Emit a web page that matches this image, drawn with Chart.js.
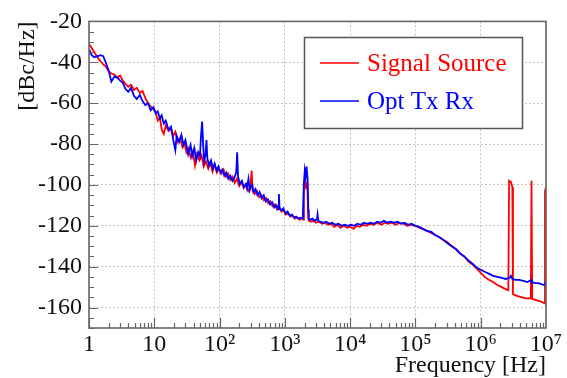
<!DOCTYPE html>
<html lang="en">
<head>
    <meta charset="UTF-8">
    <title>Phase noise - Signal Source vs Opt Tx Rx</title>
    <script src="https://cdn.jsdelivr.net/npm/chart.js"></script>
    <style>
        body { margin: 0; background: #fff; }
    </style>
</head>
<body>
    <canvas id="grafico" width="567" height="378"></canvas>

    <script>
        // datos
        const seriesNames = ['Signal Source', 'Opt Tx Rx'];
        const seriesColors = ['#ff0000', '#0000ff'];

        const xTicks = [1, 10, 100, 1000, 1e4, 1e5, 1e6, 1e7];
        const xTickLabels = ['1', '10', '10²', '10³', '10⁴', '10⁵', '10⁶', '10⁷'];
        const yTicks = [-160, -140, -120, -100, -80, -60, -40, -20];

        const freqSource = [1.0, 1.1, 1.2, 1.35, 1.5, 1.65, 1.8, 2.0, 2.2, 2.45, 2.7, 3.0, 3.3, 3.6, 4.0, 4.4, 4.9, 5.4, 6.0, 6.6, 7.3, 8.0, 8.8, 9.7,
            10.5, 11.3, 12.2, 13, 14, 15, 16.5, 18, 19.5, 21, 23, 25, 27, 29, 31, 33, 36, 39, 42, 45, 49, 53, 57, 62, 67, 72, 78, 84, 91,
            98, 106, 115, 125, 135, 146, 158, 170, 184, 200, 216, 234, 253, 274, 296, 310, 320, 345, 375, 405, 440, 475, 515, 555, 600, 650, 705, 760, 825, 890, 965,
            1040, 1130, 1220, 1320, 1430, 1550, 1680, 1820, 1920, 1960, 2020, 2100, 2200, 2270, 2330, 2500, 2750, 3000, 3300, 3700, 4100, 4600, 5100, 5700, 6400, 7100, 8000, 9000,
            10000, 11200, 12600, 14000, 16000, 18000, 20000, 23000, 26000, 30000, 34000, 38000, 43000, 50000, 57000, 65000, 75000, 85000,
            100000, 115000, 130000, 150000, 175000, 200000, 230000, 270000, 310000, 360000, 420000, 480000, 560000, 650000, 750000, 870000,
            1000000, 1150000, 1350000, 1550000, 1800000, 2100000, 2400000, 2650000, 2720000, 2900000, 3050000, 3120000, 3400000, 3800000, 4300000, 4900000, 5500000, 5850000, 6000000, 6150000, 6500000, 7300000, 8200000, 9000000, 9500000, 9650000, 10000000];
        const valSource = [-31.0, -33.0, -35.0, -37.5, -39.5, -41.0, -42.0, -44.5, -45.5, -46.0, -47.5, -46.5, -49.0, -50.5, -52.0, -51.0, -53.5, -52.5, -55.0, -54.0, -57.5, -60.0, -61.5, -63.0,
            -64.5, -68.5, -67.0, -73.0, -75.0, -71.0, -73.5, -72.5, -76.0, -74.0, -79.0, -77.0, -81.5, -79.5, -84.0, -82.0, -86.5, -83.5, -90.5, -85.0, -88.0, -85.5, -91.0, -88.5, -92.0, -89.0, -93.5, -90.0, -94.0,
            -92.0, -94.5, -92.5, -96.0, -94.5, -97.5, -96.0, -99.0, -97.0, -100.5, -98.5, -101.5, -100.0, -103.0, -101.0, -93.0, -102.5, -104.5, -103.0, -106.0, -105.0, -107.5, -106.5, -109.0, -108.0, -110.5, -109.5, -112.0, -111.0, -113.0, -112.5,
            -114.5, -114.0, -115.5, -115.0, -116.5, -116.0, -117.0, -116.5, -117.0, -100.0, -97.5, -101.0, -99.0, -112.0, -117.5, -118.0, -117.5, -118.5, -118.0, -119.0, -118.5, -119.5, -119.0, -120.5, -119.5, -121.0, -120.0, -121.0,
            -120.5, -121.5, -120.0, -120.5, -119.5, -120.0, -119.0, -119.5, -118.5, -119.5, -118.5, -119.0, -118.5, -119.5, -118.5, -119.0, -120.0, -119.5,
            -120.0, -121.0, -121.5, -122.5, -123.5, -124.5, -125.5, -127.0, -128.0, -130.0, -131.5, -133.5, -135.0, -137.5, -139.0, -141.0,
            -143.0, -145.0, -146.5, -147.5, -149.0, -150.0, -151.0, -151.5, -98.0, -98.5, -101.0, -153.5, -154.0, -154.5, -155.0, -155.5, -155.5, -155.5, -98.0, -155.8, -156.0, -156.5, -157.0, -157.5, -158.0, -103.0, -101.0];

        const freqOpt = [1.0, 1.1, 1.2, 1.35, 1.5, 1.65, 1.8, 2.0, 2.2, 2.45, 2.7, 3.0, 3.3, 3.6, 4.0, 4.4, 4.9, 5.4, 6.0, 6.6, 7.3, 8.0, 8.8, 9.7,
            10.5, 11.3, 12.2, 13, 14, 15, 16.5, 18, 19.5, 21, 22, 24, 26, 28, 30, 33, 36, 38, 41, 44, 47, 50, 52, 54, 56, 58, 61, 63, 65, 69, 74, 79, 84, 90, 96,
            103, 110, 118, 127, 136, 146, 157, 168, 180, 186, 192, 205, 220, 236, 253, 262, 277, 290, 300, 316, 330, 355, 380, 410, 440, 475, 510, 550, 595, 640, 690, 745, 790, 810, 830, 880, 950,
            1020, 1100, 1190, 1280, 1380, 1490, 1610, 1740, 1880, 1950, 2020, 2080, 2150, 2230, 2300, 2450, 2650, 2850, 3100, 3170, 3250, 3500, 3900, 4300, 4800, 5300, 5900, 6600, 7400, 8200, 9200,
            10300, 11500, 12900, 14500, 16300, 18300, 20500, 23000, 26000, 29000, 33000, 37000, 42000, 47000, 53000, 60000, 68000, 77000, 87000,
            100000, 115000, 130000, 150000, 175000, 200000, 230000, 270000, 310000, 360000, 420000, 480000, 560000, 650000, 750000, 870000,
            1000000, 1150000, 1350000, 1550000, 1800000, 2100000, 2400000, 2750000, 2900000, 3050000, 3400000, 3900000, 4500000, 5200000, 5900000, 6100000, 6800000, 7600000, 8500000, 9300000, 9800000, 10000000];
        const valOpt = [-33.5, -36.5, -37.5, -37.0, -36.5, -37.0, -40.0, -44.0, -49.5, -47.0, -47.5, -49.0, -50.0, -53.0, -54.5, -52.5, -56.5, -58.0, -56.0, -59.0, -61.0, -60.0, -63.5, -62.0,
            -65.0, -64.0, -67.5, -66.0, -70.0, -68.5, -73.0, -71.5, -78.0, -83.0, -76.0, -79.0, -75.5, -80.5, -78.0, -85.0, -80.5, -86.0, -82.0, -88.0, -84.0, -86.0, -76.0, -69.0, -80.0, -88.5, -85.0, -78.0, -87.0, -90.5, -88.0, -92.0, -89.5, -93.0, -91.0,
            -94.0, -92.5, -95.5, -94.0, -97.0, -95.5, -98.0, -96.5, -94.0, -84.0, -96.0, -99.5, -98.0, -101.0, -99.5, -101.5, -97.0, -102.5, -101.0, -100.0, -103.5, -102.0, -105.0, -103.5, -106.5, -105.0, -108.0, -107.0, -109.5, -108.5, -111.0, -110.0, -112.0, -104.5, -111.5, -112.5, -111.5,
            -114.0, -113.0, -115.0, -114.5, -116.0, -115.5, -116.5, -116.0, -116.5, -100.0, -93.0, -96.0, -91.0, -97.0, -116.5, -117.0, -116.5, -117.5, -117.0, -114.5, -117.5, -118.0, -118.5, -118.0, -119.0, -118.5, -119.5, -119.0, -120.0, -119.5, -120.0,
            -119.5, -120.0, -119.0, -119.5, -118.5, -119.0, -118.5, -119.0, -118.0, -118.5, -117.5, -118.5, -118.0, -118.5, -118.0, -119.0, -118.5, -119.5, -119.0,
            -120.0, -120.5, -121.5, -122.5, -123.0, -124.5, -125.5, -127.0, -128.5, -130.0, -131.5, -133.5, -135.0, -137.0, -138.5, -140.5,
            -141.5, -142.5, -143.5, -144.5, -145.0, -145.5, -146.0, -145.5, -144.5, -146.0, -146.5, -146.5, -147.0, -147.5, -146.5, -147.5, -148.0, -148.0, -148.5, -149.0, -148.5, -146.5];

        const fuente = 'Liberation Serif, Times New Roman, serif';

        // ticks menores dentro del marco, cuadro y leyenda
        const marco = {
            id: 'marco',
            afterDatasetsDraw(chart) {
                const c = chart.ctx;
                const a = chart.chartArea;
                const xs = chart.scales.x, ys = chart.scales.y;
                c.save();
                c.strokeStyle = '#666';
                c.lineWidth = 1.2;
                c.beginPath();
                for (let d = 1; d < 1e7; d *= 10) {
                    for (let k = 1; k < 10; k++) {
                        const px = Math.round(xs.getPixelForValue(d * k)) + 0.5;
                        const len = k === 1 ? 10 : 5;
                        c.moveTo(px, a.bottom);
                        c.lineTo(px, a.bottom - len);
                    }
                }
                for (let v = -170; v <= -20; v += 5) {
                    const py = Math.round(ys.getPixelForValue(v)) + 0.5;
                    const len = v % 20 === 0 ? 9 : 5;
                    c.moveTo(a.left, py);
                    c.lineTo(a.left + len, py);
                }
                c.stroke();

                c.lineWidth = 1.6;
                c.strokeStyle = '#666';
                c.strokeRect(a.left, a.top, a.right - a.left, a.bottom - a.top);

                // leyenda
                const lx = 304, ly = 37, lw = 218, lh = 91;
                c.fillStyle = '#fff';
                c.fillRect(lx, ly, lw, lh);
                c.lineWidth = 1.5;
                c.strokeStyle = '#555';
                c.strokeRect(lx + 0.5, ly + 0.5, lw, lh);
                c.font = '25px ' + fuente;
                c.textBaseline = 'middle';
                c.textAlign = 'left';
                [63, 101].forEach((yy, i) => {
                    c.strokeStyle = seriesColors[i];
                    c.lineWidth = 1.5;
                    c.beginPath();
                    c.moveTo(320, yy);
                    c.lineTo(359, yy);
                    c.stroke();
                    c.fillStyle = seriesColors[i];
                    c.fillText(seriesNames[i], 367, yy + 1);
                });
                c.restore();
            }
        };

        const ctx = document.getElementById('grafico').getContext('2d');
        const grafico = new Chart(ctx, {
            type: 'scatter',
            data: {
                datasets: [
                    {
                        label: seriesNames[0],
                        data: freqSource.map((f, i) => ({ x: f, y: valSource[i] })),
                        borderColor: seriesColors[0],
                        backgroundColor: seriesColors[0],
                        showLine: true,
                        borderWidth: 1.8,
                        pointRadius: 0,
                        order: 1
                    },
                    {
                        label: seriesNames[1],
                        data: freqOpt.map((f, i) => ({ x: f, y: valOpt[i] })),
                        borderColor: seriesColors[1],
                        backgroundColor: seriesColors[1],
                        showLine: true,
                        borderWidth: 1.8,
                        pointRadius: 0,
                        order: 0
                    }
                ]
            },
            options: {
                responsive: false,
                animation: false,
                layout: { padding: { left: 0, top: 15, right: 21, bottom: 0 } },
                plugins: {
                    legend: { display: false },
                    tooltip: { enabled: false }
                },
                scales: {
                    x: {
                        type: 'logarithmic',
                        min: 1,
                        max: 1e7,
                        afterBuildTicks: s => { s.ticks = xTicks.map(v => ({ value: v })); },
                        afterFit: s => { s.height = 50; },
                        ticks: {
                            autoSkip: false,
                            maxRotation: 0,
                            padding: 2,
                            color: '#111',
                            font: { family: fuente, size: 24 },
                            callback: (v, i) => xTickLabels[i]
                        },
                        grid: { color: '#c4c4c4', lineWidth: 1, drawTicks: false },
                        border: { display: false, dash: [2, 2] },
                        title: {
                            display: true,
                            text: 'Frequency [Hz]',
                            align: 'end',
                            color: '#111',
                            font: { family: fuente, size: 24, lineHeight: 1 },
                            padding: 0
                        }
                    },
                    y: {
                        type: 'linear',
                        min: -170,
                        max: -20,
                        afterBuildTicks: s => { s.ticks = yTicks.map(v => ({ value: v })); },
                        afterFit: s => { s.width = 89; },
                        ticks: {
                            padding: 7,
                            color: '#111',
                            font: { family: fuente, size: 24 },
                            callback: v => String(v)
                        },
                        grid: { color: '#c4c4c4', lineWidth: 1, drawTicks: false },
                        border: { display: false, dash: [2, 2] },
                        title: {
                            display: true,
                            text: '[dBc/Hz]',
                            align: 'end',
                            color: '#111',
                            font: { family: fuente, size: 24, lineHeight: 1 },
                            padding: { top: 16, bottom: 0 }
                        }
                    }
                }
            },
            plugins: [marco]
        });
    </script>
</body>
</html>
